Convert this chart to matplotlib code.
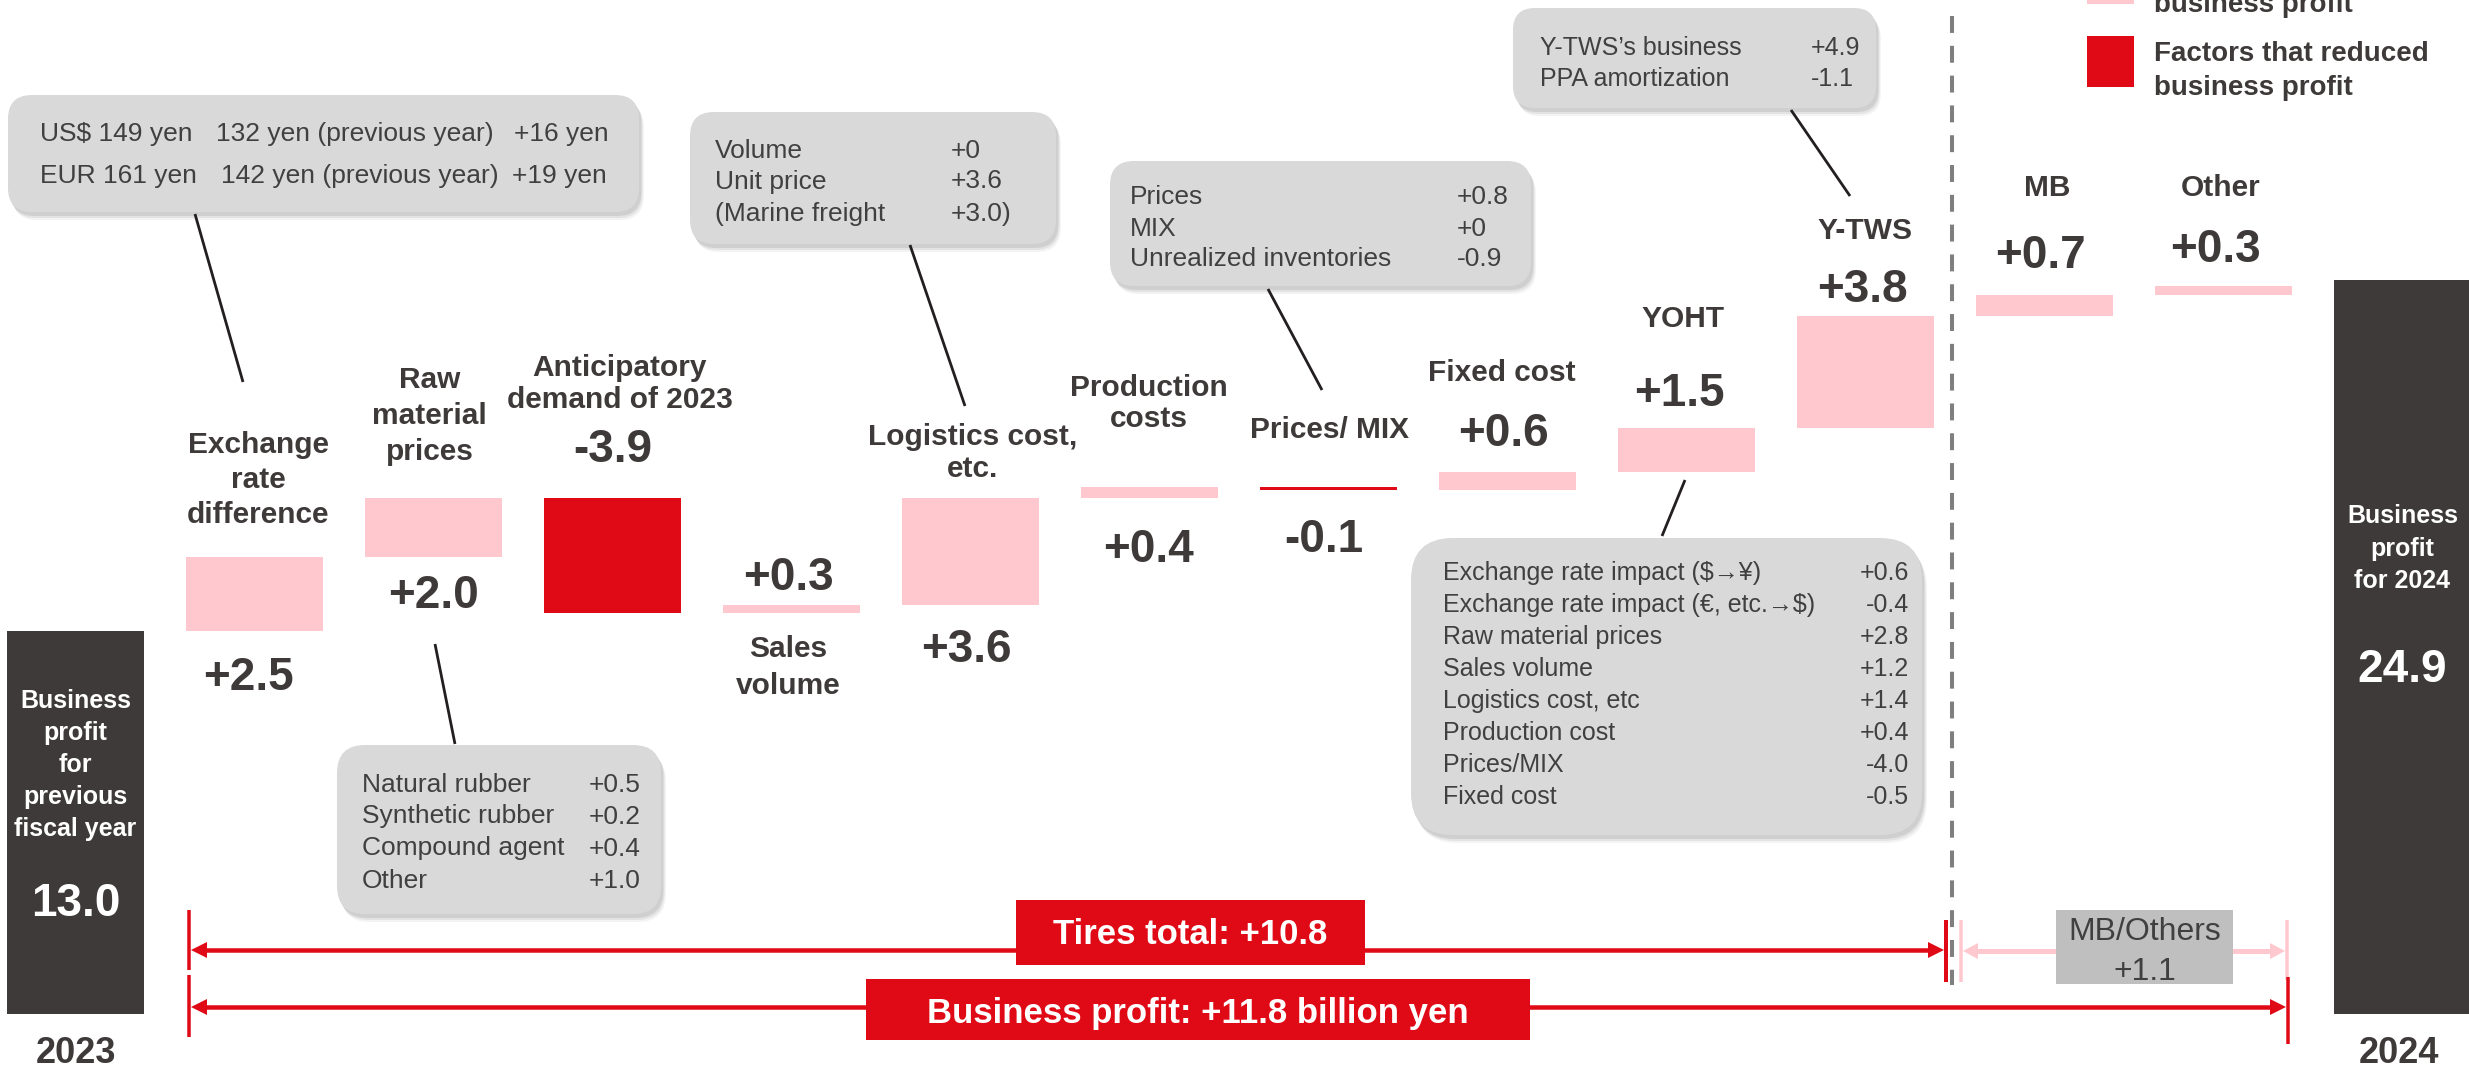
import matplotlib
matplotlib.use('Agg')
import matplotlib.pyplot as plt
from matplotlib.patches import FancyBboxPatch, Rectangle, Polygon
import matplotlib.transforms as mtrans

plt.rcParams['font.family'] = ['Liberation Sans', 'DejaVu Sans']

# ---------------- data ----------------
start_label = ["Business", "profit", "for", "previous", "fiscal year"]
start_value = 13.0
end_label = ["Business", "profit", "for 2024"]
end_value = 24.9
start_year = "2023"
end_year = "2024"
categories = ["Exchange\nrate\ndifference", "Raw\nmaterial\nprices", "Anticipatory\ndemand of 2023",
              "Sales\nvolume", "Logistics cost,\netc.", "Production\ncosts", "Prices/ MIX",
              "Fixed cost", "YOHT", "Y-TWS", "MB", "Other"]
deltas = [2.5, 2.0, -3.9, 0.3, 3.6, 0.4, -0.1, 0.6, 1.5, 3.8, 0.7, 0.3]
tires_total = 10.8
mb_others_total = 1.1
business_profit_change = 11.8

box_exchange = [("US$ 149 yen", "132 yen (previous year)", "+16 yen"),
                ("EUR 161 yen", "142 yen (previous year)", "+19 yen")]
box_raw = [("Natural rubber", "+0.5"), ("Synthetic rubber", "+0.2"),
           ("Compound agent", "+0.4"), ("Other", "+1.0")]
box_logistics = [("Volume", "+0"), ("Unit price", "+3.6"), ("(Marine freight", "+3.0)")]
box_prices = [("Prices", "+0.8"), ("MIX", "+0"), ("Unrealized inventories", "-0.9")]
box_ytws = [("Y-TWS\u2019s business", "+4.9"), ("PPA amortization", "-1.1")]
box_yoht = [("Exchange rate impact ($\u2192\u00a5)", "+0.6"),
            ("Exchange rate impact (\u20ac, etc.\u2192$)", "-0.4"),
            ("Raw material prices", "+2.8"), ("Sales volume", "+1.2"),
            ("Logistics cost, etc", "+1.4"), ("Production cost", "+0.4"),
            ("Prices/MIX", "-4.0"), ("Fixed cost", "-0.5")]
legend_labels = ["Factors that increased\nbusiness profit", "Factors that reduced\nbusiness profit"]

# ---------------- style ----------------
PINK = '#FFC7CE'
RED = '#E00A17'
DARK = '#3E3A39'
TXT = '#3E3A39'
BOXTXT = '#404040'
BOXFC = '#D9D9D9'

W, H = 2469, 1070
X0, DX = 75.5, 179.0      # pixel of first bar centre, pixel spacing
Y0, DY = 1014.0, 29.46    # pixel of zero line, pixels per billion yen
BW = 137.0 / DX

fig = plt.figure(figsize=(W / 100, H / 100), dpi=100)
ax = fig.add_axes([0, 0, 1, 1])
ax.set_xlim(-X0 / DX, (W - X0) / DX)
ax.set_ylim((Y0 - H) / DY, Y0 / DY)
ax.axis('off')
ov = fig.add_axes([0, 0, 1, 1], facecolor='none')
ov.set_xlim(0, W)
ov.set_ylim(H, 0)
ov.axis('off')
bt = mtrans.blended_transform_factory(ax.transData, ov.transData)

# ---------------- bars ----------------
n = len(deltas)
ax.bar(0, start_value, width=BW, color=DARK, linewidth=0)
cum = start_value
for i, d in enumerate(deltas):
    lo = min(cum, cum + d)
    ax.bar(i + 1, abs(d), bottom=lo, width=BW, color=PINK if d > 0 else RED, linewidth=0)
    cum += d
ax.bar(n + 1, end_value, width=BW, color=DARK, linewidth=0)


def T(x, yc, s, size, transform=None, ha='center', **kw):
    px = size / 0.72
    ov.text(x, yc + 0.36 * px, s, fontsize=size, ha=ha, va='baseline',
            transform=transform if transform is not None else ov.transData, **kw)


# category labels & value labels (x offsets in px from bar centre, y centres in px)
lab_layout = [
    (4, [442, 477, 512], -6, 674),
    (-4, [377, 413, 449], 0, 592),
    (7, [365, 397], 0, 446),
    (-3, [646, 683], -3, 573),
    (2, [434, 466], -4, 645),
    (-1, [385, 416], -1, 545),
    (1, [427], -5, 535),
    (-6, [370], -4, 429),
    (-3, [316], -7, 390),
    (-1, [228], -3, 285),
    (3, [185], -4, 252),
    (-3, [185], -8, 245),
]
for i, (name, d, (ldx, lys, vdx, vy)) in enumerate(zip(categories, deltas, lab_layout)):
    for line, y in zip(name.split("\n"), lys):
        T(i + 1 + ldx / DX, y, line, 21.5, transform=bt, fontweight='bold', color=TXT)
    T(i + 1 + vdx / DX, vy, f"{d:+.1f}", 33, transform=bt, fontweight='bold', color=TXT)

# texts inside start / end bars
for line, y in zip(start_label, [699, 731, 763, 795, 827]):
    T(0, y, line, 18, transform=bt, fontweight='bold', color='white')
T(0, 900, f"{start_value:.1f}", 33, transform=bt, fontweight='bold', color='white')
for line, y in zip(end_label, [514, 547, 579]):
    T(n + 1, y, line, 18, transform=bt, fontweight='bold', color='white')
T(n + 1, 665, f"{end_value:.1f}", 33, transform=bt, fontweight='bold', color='white')
T(0, 1050, start_year, 26, transform=bt, fontweight='bold', color=TXT)
T(n + 1 - 3.5 / DX, 1050, end_year, 26, transform=bt, fontweight='bold', color=TXT)


# ---------------- call-out boxes ----------------
def box(x0, y0, x1, y1, r=22):
    for o, a in [(8, 0.10), (6, 0.15), (4, 0.22)]:
        ov.add_patch(FancyBboxPatch((x0 + o * 0.6, y0 + o), x1 - x0, y1 - y0,
                                    boxstyle=f"round,pad=0,rounding_size={r}",
                                    fc='#8C8C8C', ec='none', alpha=a, zorder=2))
    ov.add_patch(FancyBboxPatch((x0, y0), x1 - x0, y1 - y0,
                                boxstyle=f"round,pad=0,rounding_size={r}",
                                fc=BOXFC, ec='none', zorder=3))


def conn(x0, y0, x1, y1):
    ov.plot([x0, x1], [y0, y1], color='#231F20', lw=2.0, zorder=4, solid_capstyle='butt')


# exchange box
box(8, 95, 639, 212, 24)
for (a, b, c), y, xb, xc in zip(box_exchange, [131, 174], [216, 221], [514, 512]):
    for s, x in [(a, 40), (b, xb), (c, xc)]:
        ov.text(x, y + 9.5, s, fontsize=19, ha='left', va='baseline', color=BOXTXT, zorder=5)
conn(195, 214, 243, 382)


def table(rows, x_lab, x_val, ys, size, val_ha='left'):
    px = size / 0.72
    for (a, b), y in zip(rows, ys):
        ov.text(x_lab, y + 0.36 * px, a, fontsize=size, ha='left', va='baseline', color=BOXTXT, zorder=5)
        ov.text(x_val, y + 0.36 * px, b, fontsize=size, ha=val_ha, va='baseline', color=BOXTXT, zorder=5)


box(337, 745, 661, 914, 28)
table(box_raw, 362, 589, [782, 814, 846, 878], 19)
conn(435, 644, 455, 744)

box(690, 112, 1056, 244, 24)
table(box_logistics, 715, 951, [148, 179, 211], 19)
conn(910, 245, 965, 406)

box(1110, 161, 1531, 286, 24)
table(box_prices, 1130, 1457, [195, 226, 257], 19)
conn(1268, 289, 1322, 390)

box(1513, 8, 1876, 108, 22)
table(box_ytws, 1540, 1811, [46, 77], 18)
conn(1791, 110, 1850, 196)

box(1411, 538, 1922, 835, 42)
table(box_yoht, 1443, 1909, [571 + 32 * k for k in range(len(box_yoht))], 18, val_ha='right')
conn(1685, 480, 1662, 536)

# ---------------- divider ----------------
ov.plot([1952, 1952], [16, 985], color='#7F7F7F', lw=2.9, linestyle=(0, (4.2, 3.2)), zorder=1)


# ---------------- range arrows ----------------
def harrow(x0, x1, y, color, lw_px, hl=16, hw=8):
    ov.plot([x0 + hl - 1, x1 - hl + 1], [y, y], color=color, lw=lw_px * 0.72, solid_capstyle='butt', zorder=3)
    ov.add_patch(Polygon([(x0, y), (x0 + hl, y - hw), (x0 + hl, y + hw)], closed=True, fc=color, ec='none', zorder=3))
    ov.add_patch(Polygon([(x1, y), (x1 - hl, y - hw), (x1 - hl, y + hw)], closed=True, fc=color, ec='none', zorder=3))


def vtick(x, y0, y1, color, lw_px):
    ov.plot([x, x], [y0, y1], color=color, lw=lw_px * 0.72, solid_capstyle='butt', zorder=3)


vtick(189, 910, 970, RED, 3.5)
vtick(189, 975, 1037, RED, 3.5)
vtick(1946, 920, 982, RED, 4)
vtick(1961, 920, 982, PINK, 3.5)
vtick(2287, 920, 980, PINK, 3.5)
vtick(2288, 977, 1044, RED, 3.5)

harrow(191, 1944, 950, RED, 4.5)
harrow(191, 2286, 1007, RED, 4.5)
harrow(1963, 2285, 951, PINK, 5, hl=15, hw=8)

ov.add_patch(Rectangle((1016, 900), 349, 65, fc=RED, ec='none', zorder=4))
T(1190, 932, f"Tires total: {tires_total:+.1f}", 25, fontweight='bold', color='white', zorder=5)
ov.add_patch(Rectangle((866, 979), 664, 61, fc=RED, ec='none', zorder=4))
T(1198, 1010, f"Business profit: {business_profit_change:+.1f} billion yen", 25,
  fontweight='bold', color='white', zorder=5)
ov.add_patch(Rectangle((2056, 910), 177, 74, fc='#BFBFBF', ec='none', zorder=4))
T(2145, 929, "MB/Others", 23, color=BOXTXT, zorder=5)
T(2145, 968, f"{mb_others_total:+.1f}", 23, color=BOXTXT, zorder=5)

# ---------------- legend ----------------
for (col, ytop), lab in zip([(PINK, -47), (RED, 36)], legend_labels):
    ov.add_patch(Rectangle((2087, ytop), 47, 51, fc=col, ec='none', zorder=4))
    l1, l2 = lab.split("\n")
    T(2154, ytop + 15, l1, 20, ha='left', fontweight='bold', color=TXT)
    T(2154, ytop + 49, l2, 20, ha='left', fontweight='bold', color=TXT)

fig.savefig('out.png', dpi=100)
